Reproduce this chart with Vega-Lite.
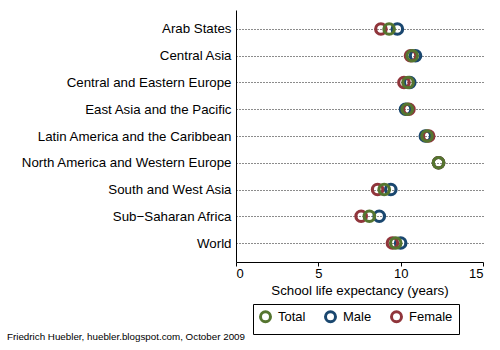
{
  "$schema": "https://vega.github.io/schema/vega-lite/v6.json",
  "width": 247,
  "height": 252,
  "autosize": {"type": "none"},
  "padding": {"left": 236, "top": 10, "right": 17, "bottom": 88},
  "background": "white",
  "config": {
    "font": "Liberation Sans",
    "view": {"stroke": null}
  },
  "title": {
    "text": "Friedrich Huebler, huebler.blogspot.com, October 2009",
    "orient": "bottom",
    "anchor": "start",
    "frame": "group",
    "dx": -229,
    "offset": -3,
    "fontSize": 9.8,
    "fontWeight": "normal",
    "color": "black",
    "font": "Liberation Sans"
  },
  "data": {
    "values": [
      {"region": "Arab States", "series": "Male", "years": 9.8},
      {"region": "Central Asia", "series": "Male", "years": 10.9},
      {"region": "Central and Eastern Europe", "series": "Male", "years": 10.55},
      {"region": "East Asia and the Pacific", "series": "Male", "years": 10.3},
      {"region": "Latin America and the Caribbean", "series": "Male", "years": 11.5},
      {"region": "North America and Western Europe", "series": "Male", "years": 12.3},
      {"region": "South and West Asia", "series": "Male", "years": 9.4},
      {"region": "Sub−Saharan Africa", "series": "Male", "years": 8.7},
      {"region": "World", "series": "Male", "years": 10.0},
      {"region": "Arab States", "series": "Female", "years": 8.8},
      {"region": "Central Asia", "series": "Female", "years": 10.6},
      {"region": "Central and Eastern Europe", "series": "Female", "years": 10.2},
      {"region": "East Asia and the Pacific", "series": "Female", "years": 10.5},
      {"region": "Latin America and the Caribbean", "series": "Female", "years": 11.7},
      {"region": "North America and Western Europe", "series": "Female", "years": 12.3},
      {"region": "South and West Asia", "series": "Female", "years": 8.6},
      {"region": "Sub−Saharan Africa", "series": "Female", "years": 7.6},
      {"region": "World", "series": "Female", "years": 9.5},
      {"region": "Arab States", "series": "Total", "years": 9.3},
      {"region": "Central Asia", "series": "Total", "years": 10.7},
      {"region": "Central and Eastern Europe", "series": "Total", "years": 10.45},
      {"region": "East Asia and the Pacific", "series": "Total", "years": 10.4},
      {"region": "Latin America and the Caribbean", "series": "Total", "years": 11.6},
      {"region": "North America and Western Europe", "series": "Total", "years": 12.3},
      {"region": "South and West Asia", "series": "Total", "years": 9.0},
      {"region": "Sub−Saharan Africa", "series": "Total", "years": 8.1},
      {"region": "World", "series": "Total", "years": 9.7}
    ]
  },
  "mark": {"type": "point", "filled": false, "shape": "circle", "size": 110, "strokeWidth": 3.2, "opacity": 1},
  "encoding": {
    "x": {
      "field": "years",
      "type": "quantitative",
      "scale": {"domain": [0, 15], "nice": false, "zero": false},
      "axis": {
        "title": "School life expectancy (years)",
        "values": [0, 5, 10, 15],
        "grid": false,
        "domainColor": "black",
        "domainWidth": 1,
        "tickColor": "black",
        "tickSize": 4,
        "labelFontSize": 13,
        "labelColor": "black",
        "labelPadding": 1,
        "titleFontSize": 13.3,
        "titleFontWeight": "normal",
        "titleColor": "black",
        "titlePadding": 3,
        "labelFont": "Liberation Sans",
        "titleFont": "Liberation Sans"
      }
    },
    "y": {
      "field": "region",
      "type": "nominal",
      "sort": null,
      "scale": {"type": "point", "padding": 0.71},
      "axis": {
        "title": null,
        "ticks": false,
        "domain": true,
        "domainColor": "black",
        "domainWidth": 1,
        "grid": true,
        "gridColor": "black",
        "gridDash": [1, 2],
        "gridWidth": 1,
        "gridOpacity": 0.9,
        "labelFontSize": 13.3,
        "labelColor": "black",
        "labelPadding": 5,
        "labelFont": "Liberation Sans",
        "labelLimit": 300
      }
    },
    "color": {
      "field": "series",
      "type": "nominal",
      "scale": {"domain": ["Total", "Male", "Female"], "range": ["#55752f", "#1a476f", "#90353b"]},
      "legend": {
        "title": null,
        "orient": "none",
        "legendX": 17,
        "legendY": 294,
        "direction": "horizontal",
        "strokeColor": "black",
        "padding": 6,
        "symbolSize": 100,
        "symbolStrokeWidth": 3,
        "symbolType": "circle",
        "labelFontSize": 13,
        "labelColor": "black",
        "labelFont": "Liberation Sans",
        "labelOffset": 6,
        "columnPadding": 13
      }
    }
  }
}
